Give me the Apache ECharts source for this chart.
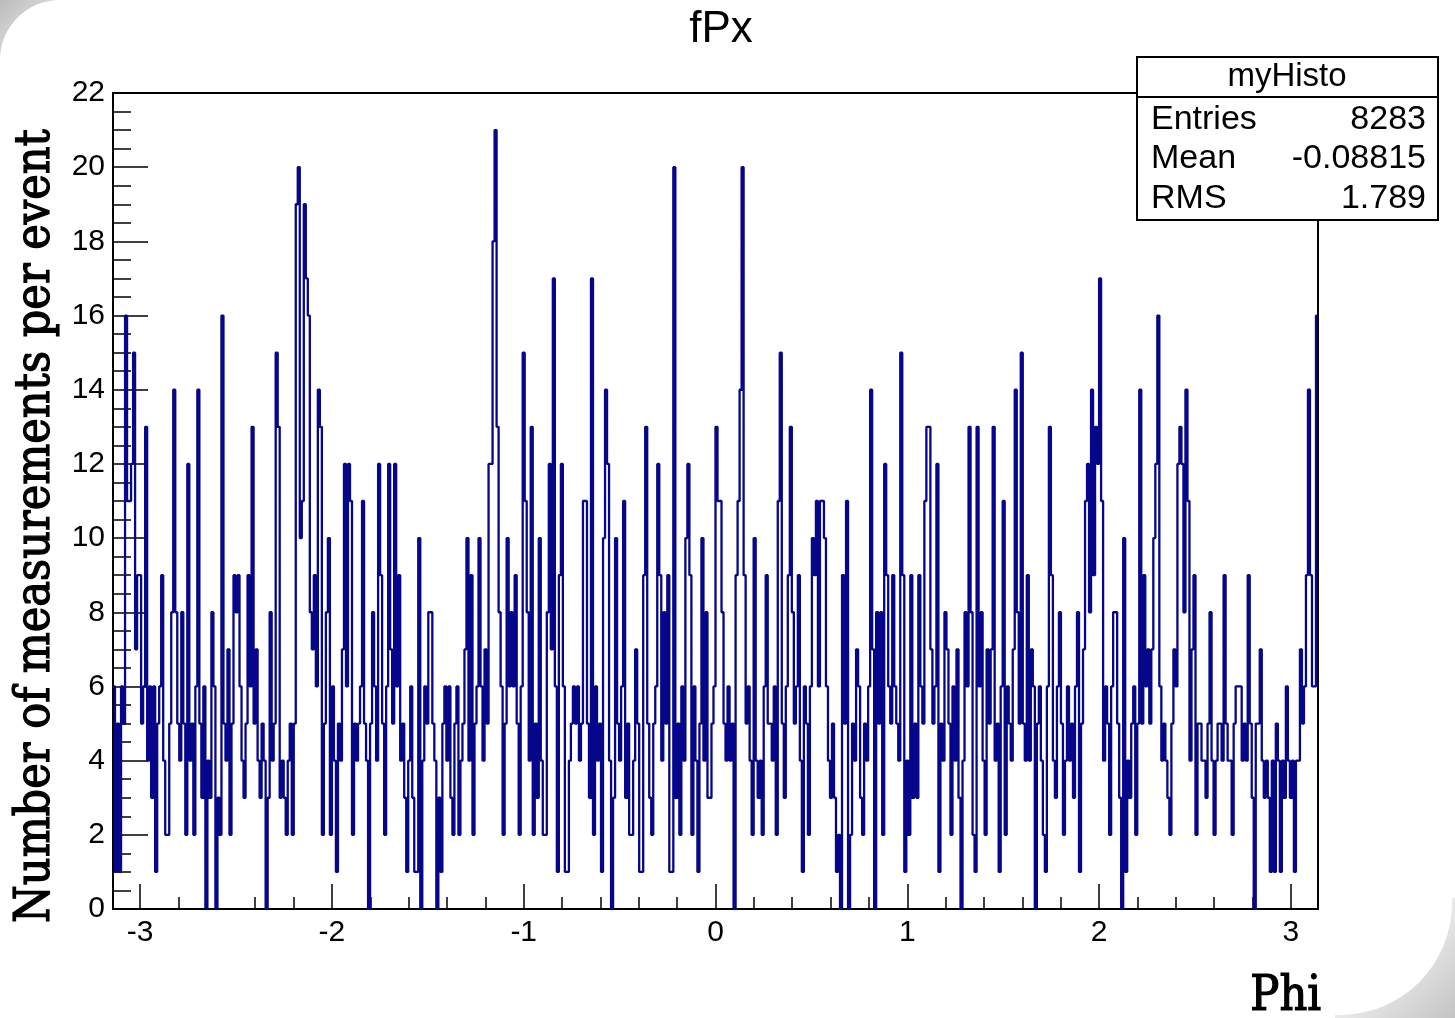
<!DOCTYPE html>
<html>
<head>
<meta charset="utf-8">
<script src="https://cdn.jsdelivr.net/npm/echarts@6/dist/echarts.min.js"></script>
<style>
html,body{margin:0;padding:0;background:#ffffff;}
#chart{width:1455px;height:1018px;}
</style>
</head>
<body>
<div id="chart"></div>
<script>
// ---------- data ----------
const chartTitle = 'fPx';
const xTitle = 'Phi';
const yTitle = 'Number of measurements per event';
const xRange = [-Math.PI, Math.PI];
const yRange = [0, 22];
const statsName = 'myHisto';
const statsLabels = ['Entries', 'Mean', 'RMS'];
const statsValues = ['8283', '-0.08815', '1.789'];

// bin contents, left to right (phi from -pi to pi)
const binsA = [
  6,1,5,1,6,5,16,11,11,12,
  15,7,9,9,5,6,13,4,6,3,
  6,1,5,6,9,4,2,2,5,8,
  14,8,5,4,8,5,2,12,4,5,
  2,6,14,5,3,6,0,4,3,8,
  6,0,3,2,16,5,4,7,2,5,
  9,8,9,6,4,3,5,9,6,13,
  5,7,4,3,5,4,0,3,8,4,
  5,15,13,3,4,3,2,4,5,2,
  5,19,20,10,11,19,17,16,8,7,
  9,6,14,13,2,5,8,10,2,6,
  4,1,5,4,7,12,6,12,11,2,
  5,4,5,6,11,5,4,0,5,8,
  6,4,12,9,5,2,6,12,7,5,
  12,6,9,4,5,3,1,4,6,3,
  1,1,10,0,4,6,5,8,8,5,
  4,0,3,1,5,6,4,6,3,2,
  5,6,2,4,5,7,10,4,9,2,
  5,6,10,6,4,7,5,12,12,18,
  21,13,8,6,2,5,10,6,8,6
];
const binsB = [
  9,5,2,6,15,11,8,4,13,2,
  5,3,10,4,2,2,8,12,7,17,
  6,1,9,12,6,1,1,4,5,6,
  5,6,4,5,11,11,5,3,17,2,
  6,4,5,1,10,14,12,4,0,3,
  10,5,4,6,11,3,5,2,2,4,
  7,5,1,1,9,13,5,3,2,5,
  6,12,9,4,8,5,9,1,1,20,
  3,5,2,6,4,10,12,9,2,6,
  4,1,5,10,4,8,3,3,5,6,
  13,11,11,8,5,4,6,4,5,0,
  9,11,14,20,9,5,6,4,2,10,
  4,3,4,2,6,9,5,5,4,6,
  2,11,15,5,3,6,9,13,8,5,
  6,9,4,1,6,5,2,6,10,9,
  11,6,11,11,10,6,4,3,5,3,
  1,2,0,9,5,11,0,2,5,4,
  7,6,3,2,5,4,6,14,7,0,
  8,5,8,2,12,9,6,5,9,6,
  5,4,15,9,1,4,2,9,3,5
];
const binsC = [
  3,9,6,5,11,13,13,7,5,6,
  12,1,5,4,8,7,5,2,6,4,
  7,3,0,4,8,6,13,8,2,1,
  13,6,8,4,2,7,5,7,13,4,
  5,1,6,11,2,6,5,4,7,14,
  8,5,15,5,4,9,4,7,6,0,
  5,6,4,2,1,6,13,9,4,3,
  6,8,5,2,4,6,4,5,3,6,
  8,1,5,7,11,12,8,14,9,13,
  12,17,11,4,6,5,2,6,8,8,
  5,3,0,10,1,4,3,5,6,2,
  5,14,5,9,6,7,5,7,10,12,
  16,6,4,5,4,3,2,5,7,6,
  12,13,12,8,14,11,4,7,9,2,
  5,5,4,4,3,5,8,4,2,4,
  5,5,4,9,5,4,4,2,5,6,
  6,6,4,5,4,9,5,3,0,5,
  5,7,4,3,4,3,1,4,1,5,
  4,1,4,3,6,4,3,4,1,4,
  4,7,5,6,9,14,9,6,6,16
];

// ---------- build series ----------
const counts = binsA.concat(binsB, binsC);
const nBins = counts.length;
const binW = (xRange[1] - xRange[0]) / nBins;
const stepData = counts.map((v, i) => [xRange[0] + i * binW, v]);
stepData.push([xRange[1], counts[nBins - 1]]);

const labelFont = 'Liberation Sans, Arial, Helvetica, sans-serif';
const slabFont = '"DejaVu Serif Condensed", "DejaVu Serif", serif';

const chart = echarts.init(document.getElementById('chart'), null, {renderer: 'canvas'});

const option = {
  backgroundColor: '#ffffff',
  animation: false,
  title: {
    text: chartTitle,
    left: 716,
    top: 3,
    textAlign: 'center',
    textStyle: {fontFamily: labelFont, fontSize: 44, fontWeight: 'normal', color: '#000'}
  },
  grid: {
    left: 113, top: 93, width: 1205, height: 816,
    show: true, borderColor: '#000', borderWidth: 2, backgroundColor: 'transparent'
  },
  xAxis: {
    type: 'value',
    min: xRange[0], max: xRange[1],
    splitNumber: 6,
    axisLine: {show: true, onZero: false, lineStyle: {color: '#000', width: 2}},
    axisTick: {show: true, inside: true, length: 25, lineStyle: {color: '#000', width: 1.5}},
    minorTick: {show: true, splitNumber: 5, length: 12, lineStyle: {color: '#000', width: 1.5}},
    splitLine: {show: false},
    axisLabel: {
      show: true, margin: 9, color: '#000', fontFamily: labelFont, fontSize: 30,
      showMinLabel: false, showMaxLabel: false,
      formatter: function (v) {
        return Math.abs(v - Math.round(v)) < 1e-6 ? String(Math.round(v)) : '';
      }
    }
  },
  yAxis: {
    type: 'value',
    min: yRange[0], max: yRange[1], interval: 2,
    axisLine: {show: true, onZero: false, lineStyle: {color: '#000', width: 2}},
    axisTick: {show: true, inside: true, length: 35, lineStyle: {color: '#000', width: 1.5}},
    minorTick: {show: true, splitNumber: 4, length: 18, lineStyle: {color: '#000', width: 1.5}},
    splitLine: {show: false},
    axisLabel: {show: true, margin: 8, color: '#000', fontFamily: labelFont, fontSize: 30}
  },
  series: [{
    type: 'line',
    name: statsName,
    data: stepData,
    step: 'end',
    showSymbol: false,
    symbol: 'none',
    clip: true,
    lineStyle: {color: '#06068a', width: 2.3},
    z: 2
  }],
  graphic: [
    // page corner decorations
    {type: 'rect', left: 0, top: 0, z: -10, silent: true,
      shape: {width: 60, height: 60},
      style: {fill: new echarts.graphic.LinearGradient(0, 0, 1, 1, [{offset: 0, color: '#bcbcbc'}, {offset: 1, color: '#f6f6f6'}])}},
    {type: 'circle', z: -9, silent: true, shape: {cx: 60, cy: 60, r: 60}, style: {fill: '#ffffff'}},
    {type: 'rect', z: -10, silent: true, shape: {x: 1335, y: 898, width: 120, height: 120},
      style: {fill: new echarts.graphic.LinearGradient(0, 0, 1, 1, [{offset: 0.3, color: '#fafafa'}, {offset: 1, color: '#c4c4c4'}])}},
    {type: 'circle', z: -9, silent: true, shape: {cx: 1340, cy: 903, r: 112}, style: {fill: '#ffffff'}},
    // y axis title
    {type: 'text', z: 50, silent: true, x: 37, y: 526, rotation: Math.PI / 2,
      style: {text: yTitle, fontFamily: slabFont, fontSize: 48, fontWeight: 'normal', fill: '#000', stroke: '#000', lineWidth: 1.2, align: 'center', verticalAlign: 'middle'}},
    // x axis title
    {type: 'text', z: 50, silent: true, x: 1321, y: 998,
      style: {text: xTitle, fontFamily: slabFont, fontSize: 48, fontWeight: 'normal', fill: '#000', stroke: '#000', lineWidth: 1.2, align: 'right', verticalAlign: 'middle'}},
    // stats box
    {type: 'rect', z: 100, silent: true, shape: {x: 1137, y: 57, width: 301, height: 163},
      style: {fill: '#ffffff', stroke: '#000', lineWidth: 2}},
    {type: 'line', z: 101, silent: true, shape: {x1: 1137, y1: 97, x2: 1438, y2: 97},
      style: {stroke: '#000', lineWidth: 2}},
    {type: 'text', z: 102, silent: true, x: 1287, y: 77,
      style: {text: statsName, fontFamily: labelFont, fontSize: 33, fill: '#000', align: 'center', verticalAlign: 'middle'}},
    {type: 'text', z: 102, silent: true, x: 1151, y: 120,
      style: {text: statsLabels[0], fontFamily: labelFont, fontSize: 34, fill: '#000', align: 'left', verticalAlign: 'middle'}},
    {type: 'text', z: 102, silent: true, x: 1151, y: 159,
      style: {text: statsLabels[1], fontFamily: labelFont, fontSize: 34, fill: '#000', align: 'left', verticalAlign: 'middle'}},
    {type: 'text', z: 102, silent: true, x: 1151, y: 199,
      style: {text: statsLabels[2], fontFamily: labelFont, fontSize: 34, fill: '#000', align: 'left', verticalAlign: 'middle'}},
    {type: 'text', z: 102, silent: true, x: 1426, y: 120,
      style: {text: statsValues[0], fontFamily: labelFont, fontSize: 34, fill: '#000', align: 'right', verticalAlign: 'middle'}},
    {type: 'text', z: 102, silent: true, x: 1426, y: 159,
      style: {text: statsValues[1], fontFamily: labelFont, fontSize: 34, fill: '#000', align: 'right', verticalAlign: 'middle'}},
    {type: 'text', z: 102, silent: true, x: 1426, y: 199,
      style: {text: statsValues[2], fontFamily: labelFont, fontSize: 34, fill: '#000', align: 'right', verticalAlign: 'middle'}}
  ]
};
chart.setOption(option);
</script>
</body>
</html>
